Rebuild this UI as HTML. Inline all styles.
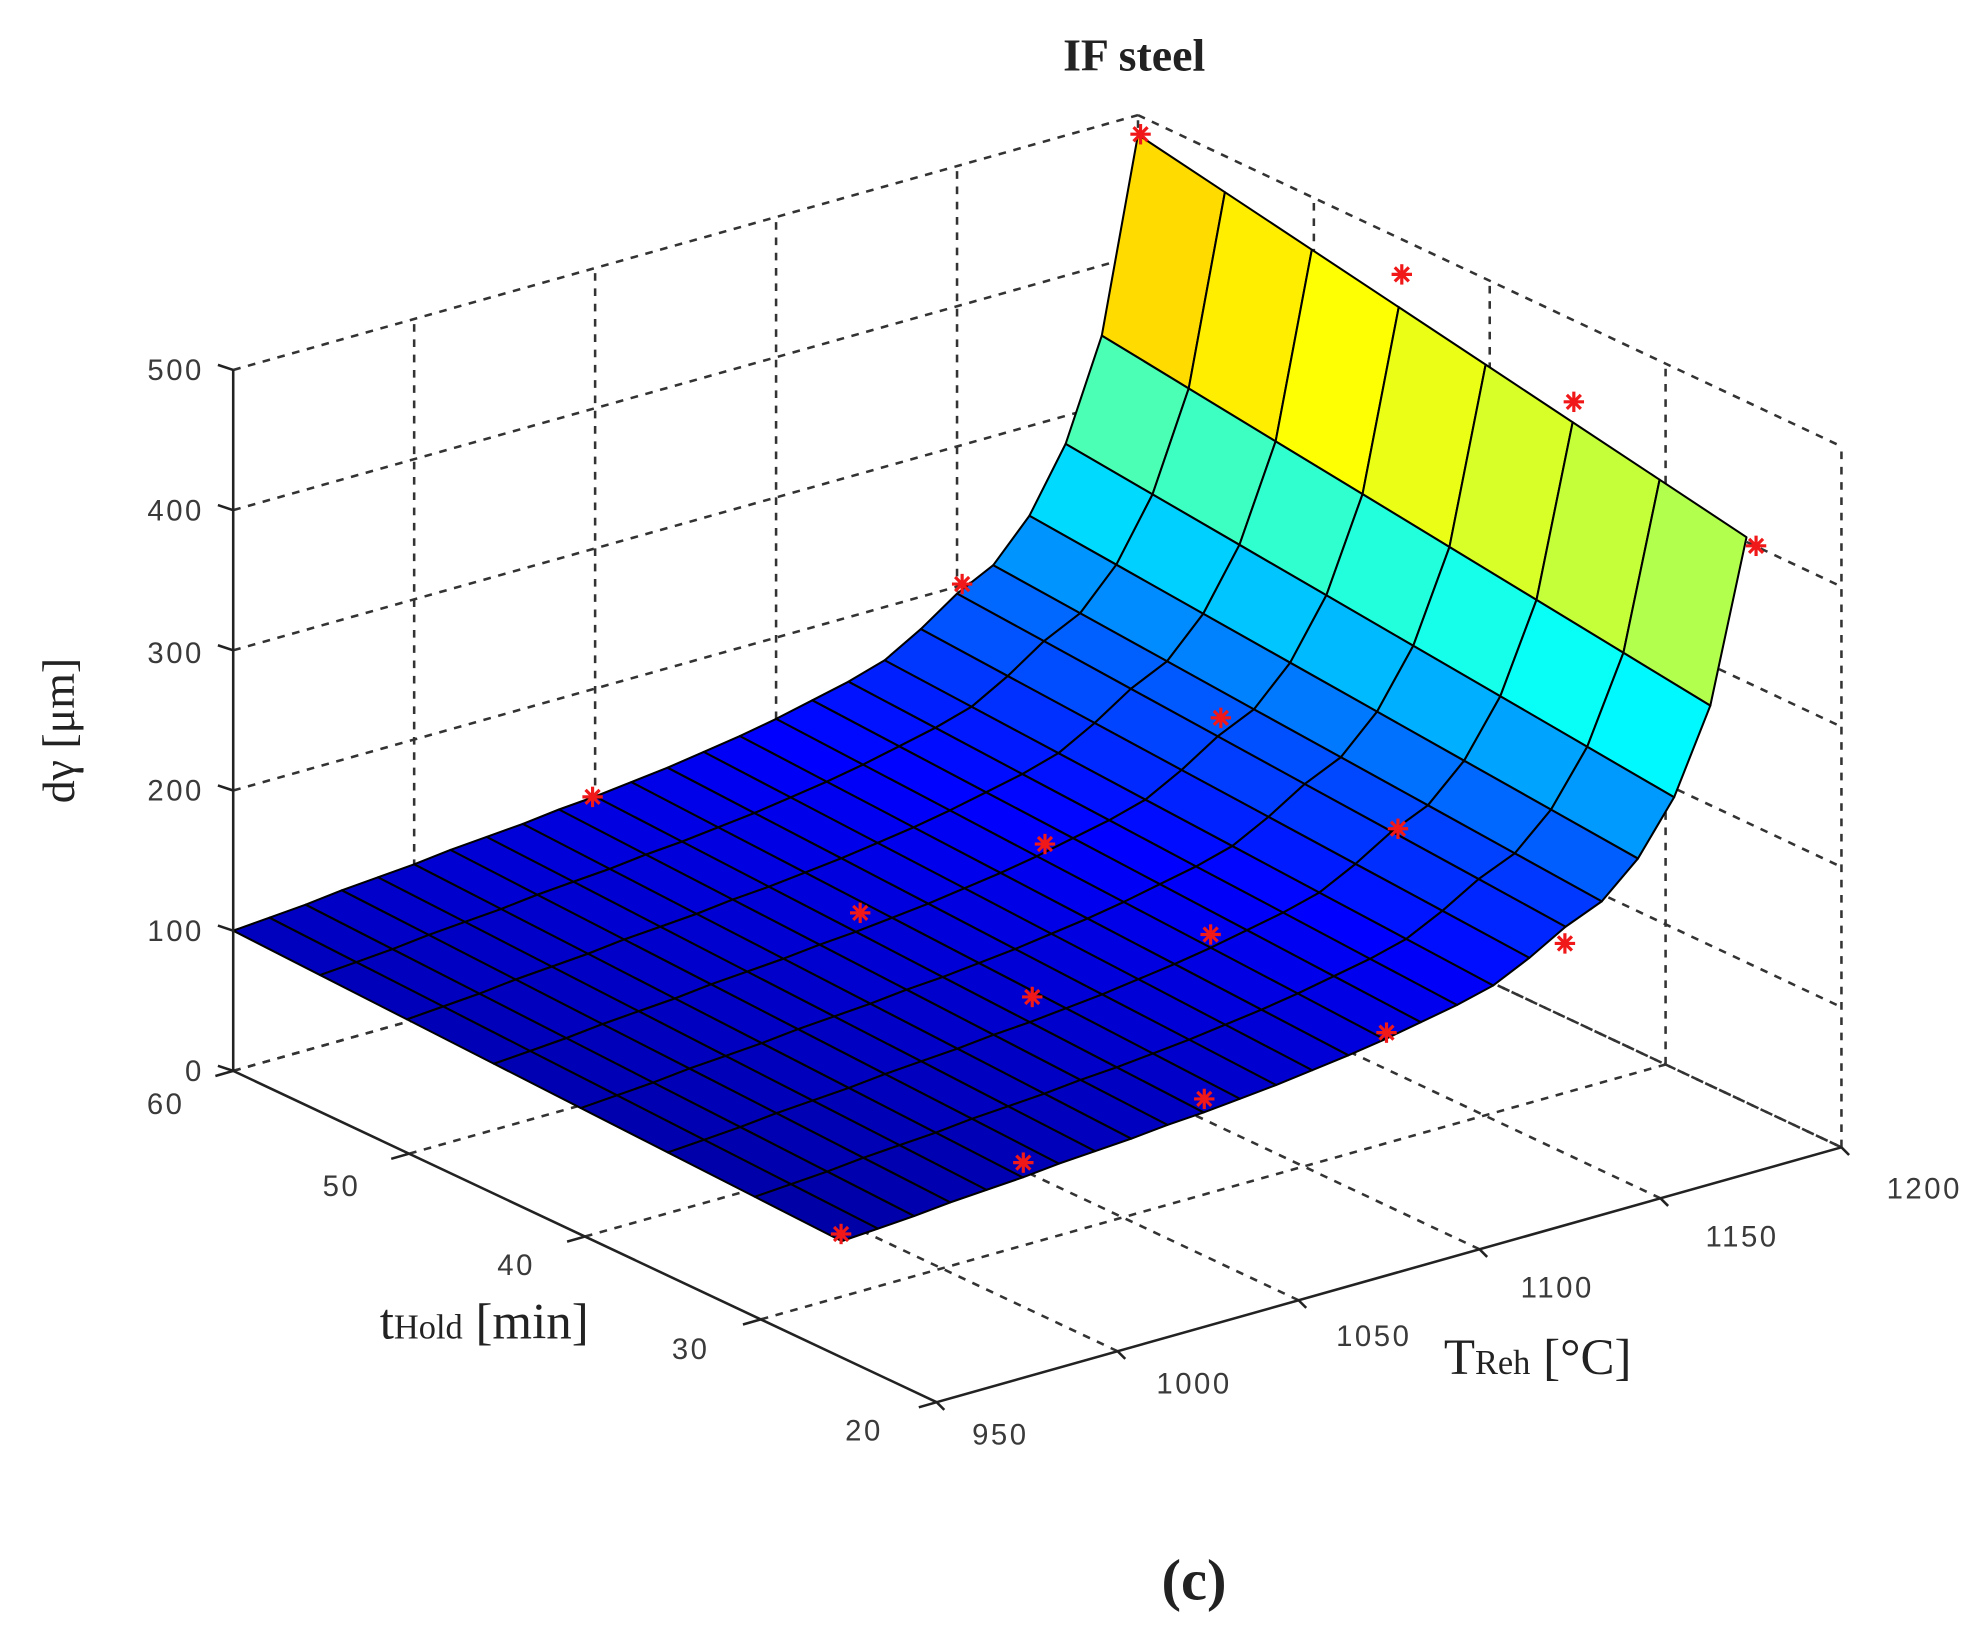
<!DOCTYPE html>
<html><head><meta charset="utf-8"><style>
html,body{margin:0;padding:0;background:#fff;}
svg{display:block;}
.tk{font-family:"Liberation Sans",sans-serif;font-size:23px;fill:#3a3a3a;letter-spacing:2px;}
.sr{font-family:"Liberation Serif",serif;fill:#222;}
</style></head><body>
<svg id="s" width="1988" height="1632" viewBox="0 0 1560 1280" xmlns="http://www.w3.org/2000/svg">
<g id="grid" stroke="#333" stroke-width="2" stroke-dasharray="6,6" fill="none"></g>
<g id="surf" stroke="#000" stroke-width="1.6" stroke-linejoin="round"></g>
<g id="axes" stroke="#222" stroke-width="2" fill="none"></g>
<g id="stars" stroke="#f01818" stroke-width="2.5"></g>
<text class="sr" x="890" y="55" font-size="36" font-weight="bold" text-anchor="middle">IF steel</text>
<g class="tk" text-anchor="end">
<text x="160" y="298">500</text><text x="160" y="408">400</text><text x="160" y="520">300</text>
<text x="160" y="628">200</text><text x="160" y="738">100</text><text x="160" y="848">0</text>
</g>
<g class="tk" text-anchor="middle">
<text x="130" y="874">60</text><text x="268" y="938">50</text><text x="405" y="1000">40</text>
<text x="542" y="1066">30</text><text x="678" y="1130">20</text>
<text x="785" y="1133">950</text><text x="937" y="1093">1000</text><text x="1078" y="1056">1050</text>
<text x="1222" y="1018">1100</text><text x="1367" y="978">1150</text><text x="1510" y="940">1200</text>
</g>
<text class="sr" font-size="36" transform="translate(58,630) rotate(-90)" fill="#2a4f6a">dγ [μm]</text>
<text class="sr" x="298" y="1050" font-size="40">t<tspan font-size="27">Hold</tspan> [min]</text>
<text class="sr" x="1133" y="1078" font-size="40">T<tspan font-size="27">Reh</tspan> [°C]</text>
<text class="sr" x="937" y="1255" font-size="46" font-weight="bold" text-anchor="middle">(c)</text>
</svg>
<script>
(function(){
var NS="http://www.w3.org/2000/svg";
function P(t,T,z){var a=(t-20)/40,b=(T-950)/250;return [735-552*a+710*b,1100-260*a-200*b-z*1.1];}
function line(g,p,q){var l=document.createElementNS(NS,"line");l.setAttribute("x1",p[0]);l.setAttribute("y1",p[1]);l.setAttribute("x2",q[0]);l.setAttribute("y2",q[1]);g.appendChild(l);}
var G=document.getElementById("grid"),A=document.getElementById("axes"),S=document.getElementById("surf"),ST=document.getElementById("stars");
var k;
for(k=0;k<=5;k++){line(G,P(60,950,k*100),P(60,1200,k*100));}
for(k=1;k<=5;k++){var T=950+50*k;line(G,P(60,T,0),P(60,T,500));}
for(k=0;k<=5;k++){line(G,P(60,1200,k*100),P(20,1200,k*100));}
for(k=0;k<4;k++){var t=20+10*k;line(G,P(t,1200,0),P(t,1200,500));}
for(k=1;k<=5;k++){var T2=950+50*k;line(G,P(20,T2,0),P(60,T2,0));}
for(k=1;k<=4;k++){var t2=20+10*k;line(G,P(t2,950,0),P(t2,1200,0));}
line(A,P(60,950,0),P(60,950,500));
line(A,P(60,950,0),P(20,950,0));
line(A,P(20,950,0),P(20,1200,0));
for(k=0;k<=5;k++){var p=P(60,950,k*100);line(A,[p[0]-12,p[1]-4],p);}
for(k=0;k<=4;k++){var q=P(20+10*k,950,0);line(A,q,[q[0]-14,q[1]+4]);}
for(k=0;k<=5;k++){var r=P(20,950+50*k,0);line(A,r,[r[0]+6,r[1]+6]);}
var ft=[100,102,104,107,109,111,114,116,118,121,123,126,129,133,137,142,148,154,162,177,195,208,236,280,350,486];
function f(T){var i=(T-950)/10,i0=Math.min(24,Math.floor(i)),u=i-i0;return ft[i0]*(1-u)+ft[i0+1]*u;}
var tmin=25.4;
function g(t){return 0.83+0.17*(t-tmin)/(60-tmin);}
function z(t,T){return f(T)*g(t);}
function jet(x){function c(v){return Math.round(255*Math.max(0,Math.min(1,v)));}
return "rgb("+c(1.5-Math.abs(4*x-3))+","+c(1.5-Math.abs(4*x-2))+","+c(1.5-Math.abs(4*x-1))+")";}
var NT=7,NR=25;
for(var i=NT-1;i>=0;i--){
 var ta=tmin+(60-tmin)*(i+1)/NT, tb=tmin+(60-tmin)*i/NT;
 for(var j=NR-1;j>=0;j--){
  var Ta=950+10*j,Tb=950+10*(j+1);
  var pts=[P(ta,Ta,z(ta,Ta)),P(ta,Tb,z(ta,Tb)),P(tb,Tb,z(tb,Tb)),P(tb,Ta,z(tb,Ta))];
  var zz=z(ta,Tb);
  var idx=0.04+(zz-88)/398*0.62;
  var pg=document.createElementNS(NS,"polygon");
  pg.setAttribute("points",pts.map(function(p){return p[0].toFixed(1)+","+p[1].toFixed(1);}).join(" "));
  pg.setAttribute("fill",jet(idx));
  S.appendChild(pg);
 }
}
var st=[[895,105],[1100,215],[1235,315],[1378,428],[755,458],[958,563],[1097,650],[1228,740],[465,625],[820,662],[675,716],[950,733],[810,782],[1088,810],[945,862],[803,912],[660,968]];
st.forEach(function(s){var x=s[0],y=s[1],d=8;
 line(ST,[x-d,y],[x+d,y]);line(ST,[x,y-d],[x,y+d]);
 line(ST,[x-5.5,y-5.5],[x+5.5,y+5.5]);line(ST,[x-5.5,y+5.5],[x+5.5,y-5.5]);});
})();
</script>
</body></html>
